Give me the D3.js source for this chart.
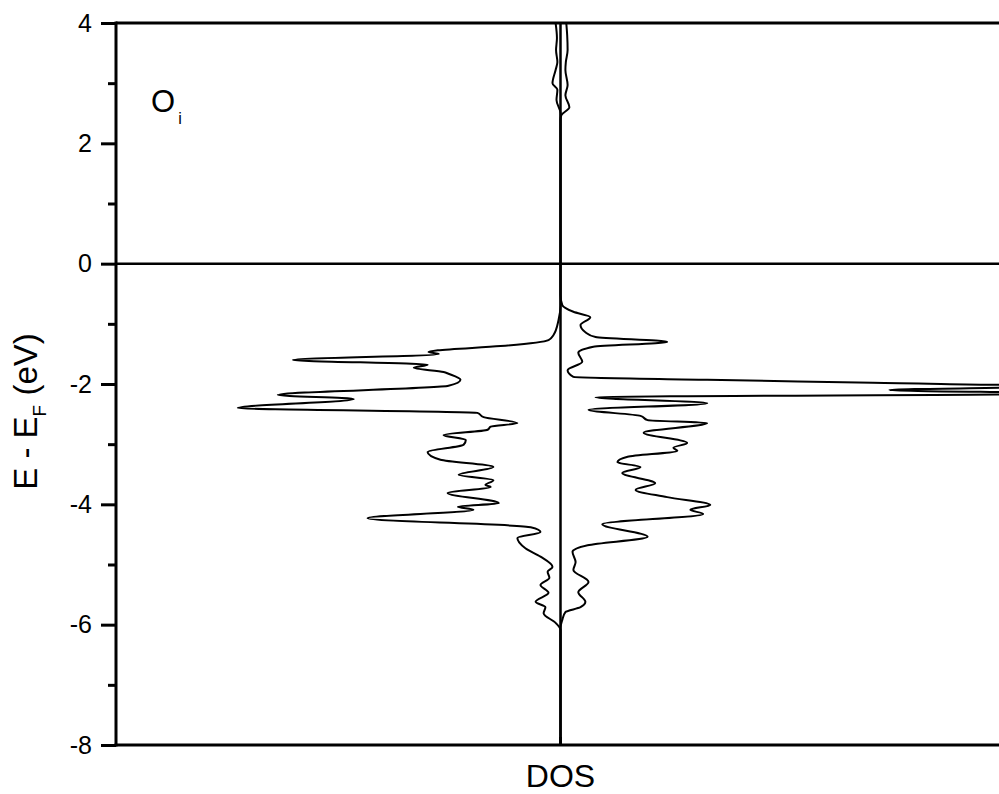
<!DOCTYPE html>
<html>
<head>
<meta charset="utf-8">
<script src="https://cdn.jsdelivr.net/npm/d3@7"></script>
<style>
  html, body { margin: 0; padding: 0; background: #fff; }
  svg { display: block; }
  text { font-family: Arial, "Liberation Sans", sans-serif; fill: #000; }
</style>
</head>
<body>
<svg id="chart" width="999" height="794"></svg>
<script>
// ---- data ----
const yTicks = [-8, -6, -4, -2, 0, 2, 4];
const yMinorTicks = [-7, -5, -3, -1, 1, 3];
const yLabel = "E - E";
const yLabelSub = "F";
const yLabelTail = " (eV)";
const xLabel = "DOS";
const panelLabel = "O";
const panelLabelSub = "i";

// spin-down (drawn to the left, negative DOS)
const energyDown = [4.0, 3.75, 3.55, 3.35, 3.22, 3.0, 2.89, 2.72, 2.5, -0.7, -0.94, -1.19, -1.27, -1.37, -1.44, -1.47, -1.5, -1.6, -1.68, -1.73, -1.8, -1.83, -1.93, -2.03, -2.18, -2.25, -2.4, -2.48, -2.55, -2.65, -2.71, -2.76, -2.85, -2.93, -3.01, -3.13, -3.26, -3.38, -3.51, -3.6, -3.68, -3.71, -3.81, -3.98, -4.04, -4.09, -4.23, -4.38, -4.46, -4.56, -4.73, -4.87, -5.04, -5.12, -5.22, -5.34, -5.47, -5.62, -5.71, -5.81, -5.97, -6.09, -8];
const dosDown = [-0.11, -0.08, -0.1, -0.07, -0.11, -0.18, -0.07, -0.09, 0, 0, -0.045, -0.16, -0.27, -1.35, -2.76, -2.97, -2.74, -6.02, -2.99, -3.3, -2.63, -2.52, -2.25, -2.52, -6.36, -4.65, -7.26, -1.87, -1.73, -0.97, -1.57, -1.64, -2.63, -2.13, -2.18, -2.99, -2.7, -1.51, -2.29, -1.51, -1.69, -1.57, -2.54, -1.39, -2.31, -1.96, -4.34, -0.67, -0.45, -0.97, -0.79, -0.45, -0.18, -0.29, -0.25, -0.45, -0.27, -0.56, -0.34, -0.38, -0.11, 0, 0];

// spin-up (drawn to the right, positive DOS)
const energyUp = [4.0, 3.8, 3.55, 3.35, 3.22, 2.97, 2.8, 2.6, 2.47, 2.4, -0.52, -0.69, -0.8, -0.89, -1.02, -1.14, -1.22, -1.3, -1.38, -1.48, -1.63, -1.77, -1.88, -1.93, -1.98, -2.04, -2.1, -2.16, -2.22, -2.32, -2.43, -2.53, -2.6, -2.65, -2.81, -2.98, -3.06, -3.11, -3.21, -3.3, -3.38, -3.48, -3.65, -3.76, -3.88, -4.01, -4.09, -4.16, -4.33, -4.54, -4.68, -4.79, -4.96, -5.09, -5.29, -5.46, -5.62, -5.71, -5.79, -5.92, -6.05, -8];
const dosUp = [0.13, 0.15, 0.16, 0.12, 0.11, 0.16, 0.11, 0.2, 0.02, 0, 0, 0.04, 0.29, 0.67, 0.45, 0.56, 0.79, 2.4, 0.74, 0.4, 0.49, 0.16, 0.29, 3.3, 7.03, 11, 7.4, 11.5, 0.79, 3.3, 0.63, 1.8, 1.96, 3.3, 1.87, 2.85, 2.54, 2.63, 1.51, 1.28, 1.8, 1.39, 2.13, 1.69, 2.4, 3.37, 2.92, 3.21, 0.94, 1.96, 0.61, 0.27, 0.34, 0.29, 0.63, 0.4, 0.56, 0.45, 0.11, 0.04, 0, 0];

// ---- layout ----
const svg = d3.select("#chart");
const W = 999, H = 794;
const mLeft = 116, mTop = 23, mBottom = 745, mRight = 1005;

const y = d3.scaleLinear().domain([-8, 4]).range([mBottom, mTop]);
const x = d3.scaleLinear().domain([-10, 10]).range([mLeft, mRight]);

svg.append("defs").append("clipPath").attr("id", "clip")
  .append("rect").attr("x", mLeft).attr("y", mTop).attr("width", W - mLeft).attr("height", mBottom - mTop);

const line = d3.line()
  .x(d => x(d[1]))
  .y(d => y(d[0]))
  .curve(d3.curveMonotoneY);

const downData = energyDown.map((e, i) => [e, dosDown[i]]);
const upData = energyUp.map((e, i) => [e, dosUp[i]]);

const g = svg.append("g").attr("clip-path", "url(#clip)");
g.append("path").datum(downData).attr("d", line)
  .attr("fill", "none").attr("stroke", "#000").attr("stroke-width", 2).attr("stroke-linejoin", "round");
g.append("path").datum(upData).attr("d", line)
  .attr("fill", "none").attr("stroke", "#000").attr("stroke-width", 2).attr("stroke-linejoin", "round");

// zero lines
svg.append("line").attr("x1", x(0)).attr("x2", x(0)).attr("y1", mTop).attr("y2", mBottom)
  .attr("stroke", "#000").attr("stroke-width", 2.5);
svg.append("line").attr("x1", mLeft).attr("x2", W).attr("y1", y(0)).attr("y2", y(0))
  .attr("stroke", "#000").attr("stroke-width", 2.5);

// frame: top and bottom lines
svg.append("line").attr("x1", mLeft).attr("x2", W).attr("y1", mTop).attr("y2", mTop)
  .attr("stroke", "#000").attr("stroke-width", 3);
svg.append("line").attr("x1", mLeft - 1.5).attr("x2", W).attr("y1", mBottom).attr("y2", mBottom)
  .attr("stroke", "#000").attr("stroke-width", 3);

// y axis
const yAxis = d3.axisLeft(y).tickValues(yTicks).tickSize(15).tickPadding(9).tickFormat(d3.format("d"));
const ya = svg.append("g").attr("transform", `translate(${mLeft},0)`).call(yAxis);
ya.select(".domain").attr("stroke-width", 3).attr("d", `M0,${mTop - 1.5}V${mBottom + 1.5}`);
ya.selectAll(".tick line").attr("stroke-width", 3);
ya.selectAll(".tick text").attr("font-size", 25).attr("font-family", "Arial, 'Liberation Sans', sans-serif")
  .text(d => d < 0 ? "-" + Math.abs(d) : d);

const yMinor = d3.axisLeft(y).tickValues(yMinorTicks).tickSize(8).tickFormat("");
const ym = svg.append("g").attr("transform", `translate(${mLeft},0)`).call(yMinor);
ym.select(".domain").remove();
ym.selectAll(".tick line").attr("stroke-width", 3);

// bottom tick at DOS = 0 (inward)
svg.append("line").attr("x1", x(0)).attr("x2", x(0)).attr("y1", mBottom).attr("y2", mBottom - 8)
  .attr("stroke", "#000").attr("stroke-width", 3);

// axis titles
const yt = svg.append("text")
  .attr("transform", `translate(37,${(328 + 495) / 2}) rotate(-90)`)
  .attr("text-anchor", "middle")
  .attr("font-size", 33);
yt.append("tspan").text(yLabel);
yt.append("tspan").attr("font-size", 19).attr("dy", 9).text(yLabelSub);
yt.append("tspan").attr("dy", -9).text(yLabelTail);

svg.append("text").attr("x", x(0)).attr("y", 787).attr("text-anchor", "middle")
  .attr("font-size", 32).text(xLabel);

// panel label
const pl = svg.append("text").attr("x", 151).attr("y", 112).attr("font-size", 31);
pl.append("tspan").text(panelLabel);
pl.append("tspan").attr("font-size", 16).attr("dx", 3).attr("dy", 12).text(panelLabelSub);
</script>
</body>
</html>
